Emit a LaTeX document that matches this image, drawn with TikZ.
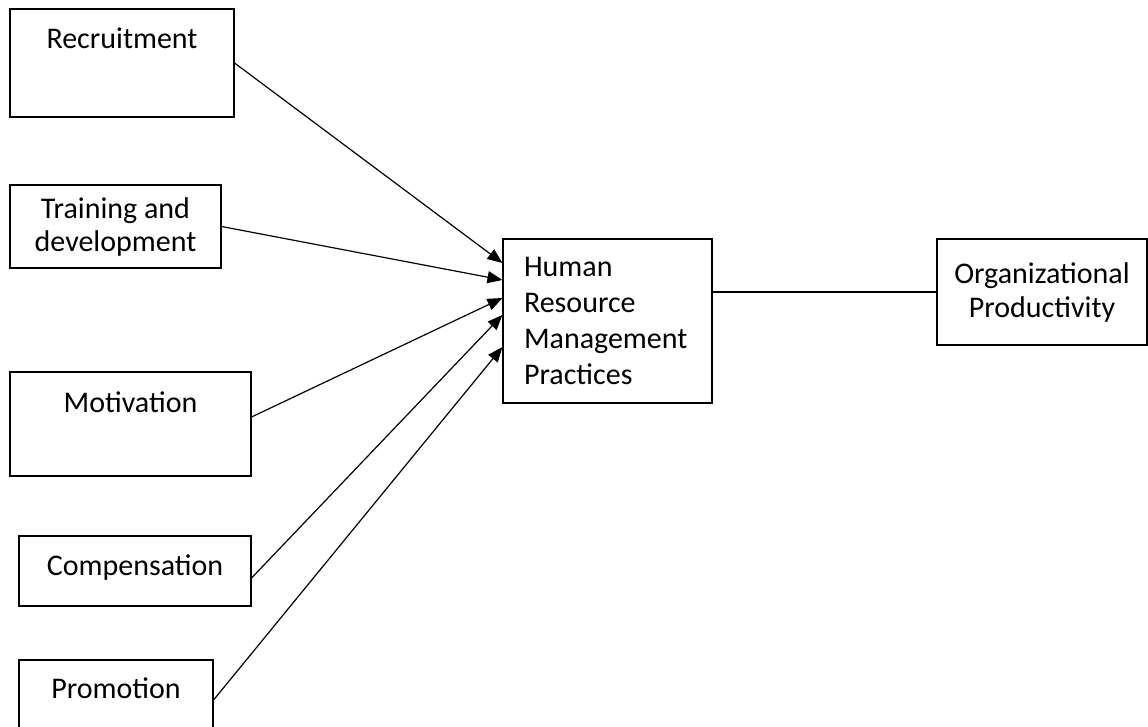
\documentclass[tikz,border=0pt]{standalone}
\usepackage{fontspec}
\setmainfont{Carlito}
\usetikzlibrary{arrows.meta}
\tikzset{>={Triangle[width=12pt,length=15pt]}}
\tikzset{box/.style={draw,line width=1.1pt,inner sep=0pt,font=\fontsize{30}{36}\selectfont},
  link/.style={line width=1.2pt}}

\begin{document}
\begin{tikzpicture}[x=1pt,y=-1pt]
  \useasboundingbox (0,0) rectangle (1148,726);

  %% factors on the left
  \node[box,minimum width=224pt,text height=39pt,text depth=69pt] (rec) at (122,63) {Recruitment};
  \node[box,align=center,minimum width=211pt,minimum height=83pt,font=\fontsize{30}{33}\selectfont] (trn) at (115.5,226.5) {Training and\\development};
  \node[box,minimum width=241pt,text height=40pt,text depth=64pt] (mot) at (130.5,424) {Motivation};
  \node[box,minimum width=232pt,text height=39pt,text depth=31pt] (cmp) at (135,571) {Compensation};
  \node[box,minimum width=194pt,text height=38pt,text depth=42pt] (pro) at (116,700) {Promotion};

  %% middle and right
  \node[box,align=left,text width=167pt,minimum width=209pt,minimum height=164pt] (hrm) at (607.5,321) {Human\\Resource\\Management\\Practices};
  \node[box,align=center,minimum width=210pt,minimum height=106pt,font=\fontsize{30}{34}\selectfont] (org) at (1042,292) {Organizational\\Productivity};

  \draw[link,->] (rec.east) -- ([yshift=58pt]hrm.west); % rec->hrm
  \draw[link,->] (trn.east) -- ([yshift=41pt]hrm.west); % trn->hrm
  \draw[link,->] ([yshift=7pt]mot.east) -- ([yshift=23pt]hrm.west); % mot->hrm
  \draw[link,->] ([yshift=-7pt]cmp.east) -- ([yshift=6pt]hrm.west); % cmp->hrm
  \draw[link,->] (pro.east) -- ([yshift=-26pt]hrm.west); % pro->hrm

  \draw[link] (org.west -| hrm.east) -- (org.west); % hrm--org

\end{tikzpicture}
\end{document}
